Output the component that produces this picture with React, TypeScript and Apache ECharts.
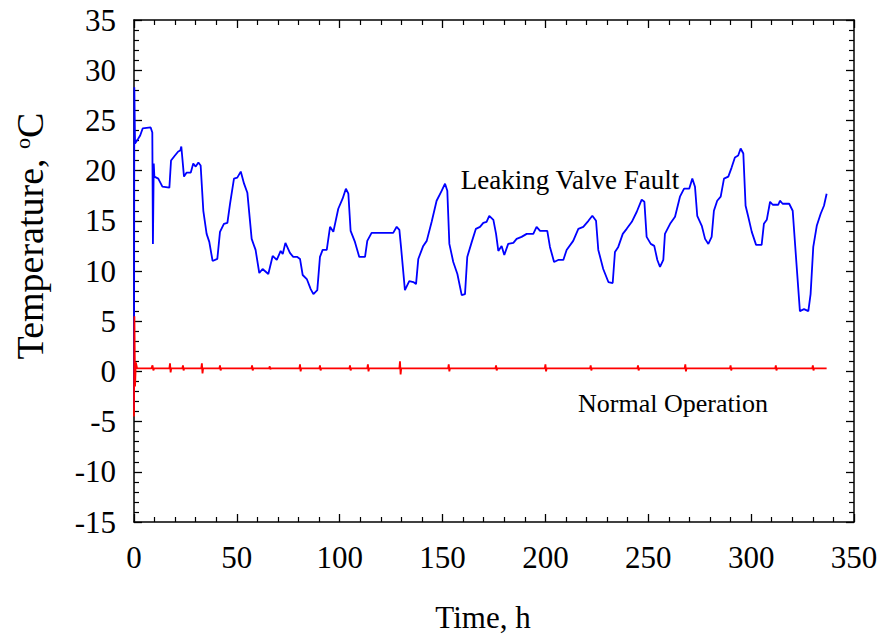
import React, { useEffect, useRef } from "react";
import * as echarts from "echarts";

const xTicks = [0, 50, 100, 150, 200, 250, 300, 350];
const yTicks = [-15, -10, -5, 0, 5, 10, 15, 20, 25, 30, 35];

// Leaking valve fault: [time h, temperature °C]
const leakingValve: [number, number][] = [
  [0, -3.7], [0.15, 28.3], [0.5, 22.7], [2.1, 23.2], [3, 23.5], [4.2, 24.2], [8.1, 24.3], [8.9, 23.8],
  [9.2, 12.7], [9.6, 20.7], [9.9, 19.4], [11.8, 19.2], [13.8, 18.4], [17.2, 18.3], [18, 21.0], [19.9, 21.5],
  [21.5, 21.9], [22.5, 22.0], [23, 22.4], [24.3, 19.4], [25.6, 19.8], [27.6, 19.8], [28.8, 20.7], [30, 20.4],
  [31.3, 20.8], [32.4, 20.5], [33.7, 16.0], [35.3, 13.7], [36.6, 12.9], [38.2, 11.0], [40.5, 11.2], [41.8, 13.9],
  [43.7, 14.7], [45.4, 14.8], [46.7, 16.7], [48.6, 19.2], [50.2, 19.3], [51.9, 19.9], [53.5, 18.7], [55.1, 17.8],
  [57.2, 13.2], [59.1, 12.1], [60.9, 9.8], [62.5, 10.2], [65.3, 9.7], [67.4, 11.5], [69.4, 11.1], [71.3, 12.0],
  [72.3, 11.7], [73.6, 12.8], [75.8, 11.8], [77.4, 11.4], [79.4, 11.4], [80.7, 11.2], [82, 9.6], [84, 9.2],
  [85.9, 8.2], [87.2, 7.7], [89.1, 8.1], [90.4, 11.4], [91.7, 12.1], [93.7, 12.1], [95.3, 14.4], [96.9, 13.9],
  [99.3, 16.2], [101.4, 17.2], [103, 18.2], [104.2, 17.7], [105.3, 14.0], [107.4, 12.9], [109.5, 11.4], [112.3, 11.4],
  [113.4, 13.0], [115.5, 13.8], [126, 13.8], [127.7, 14.4], [129, 14.1], [129.8, 12.4], [131.7, 8.1], [133.8, 9.0],
  [135.8, 8.9], [137.1, 8.7], [138.2, 11.2], [140.6, 12.5], [142.3, 13.0], [144.7, 14.9], [147.1, 17.0], [149.6, 18.0],
  [151.2, 18.7], [152.3, 18.0], [153.3, 12.7], [155.2, 10.9], [157.2, 9.7], [159.3, 7.6], [160.9, 7.7], [162, 11.4],
  [164.2, 12.9], [166.2, 14.2], [168.2, 14.4], [169.8, 14.8], [171.4, 14.9], [172.7, 15.5], [174.7, 15.1], [176, 13.7],
  [177.1, 12.0], [178.7, 12.5], [180, 11.6], [181.9, 12.7], [184.4, 12.8], [186, 13.2], [188.4, 13.4], [190.9, 13.7],
  [194.1, 13.7], [195.7, 14.4], [197.4, 14.0], [200.9, 14.0], [202.2, 12.4], [204.2, 10.9], [206.2, 11.1], [208.7, 11.1],
  [210.3, 12.1], [213.5, 13.0], [216, 14.2], [218.4, 14.4], [220.9, 15.0], [222.8, 15.5], [224.6, 15.0], [225.7, 12.1],
  [228.1, 10.2], [230.6, 8.9], [232.7, 8.8], [233.8, 11.9], [235.4, 12.4], [237.6, 13.7], [239.5, 14.2], [242, 14.9],
  [244.4, 15.9], [246.8, 17.1], [248.1, 16.9], [249.2, 13.4], [251.2, 12.7], [252.9, 12.5], [254.4, 11.1], [255.7, 10.4],
  [257.3, 11.1], [258.1, 13.7], [260.6, 14.7], [263, 15.4], [265.4, 17.4], [267.4, 18.2], [269.9, 18.2], [271.4, 19.2],
  [272.7, 18.4], [273.8, 15.5], [276, 14.5], [277.6, 13.2], [279.2, 12.7], [280.8, 13.4], [281.9, 16.0], [283.5, 17.0],
  [285.2, 17.4], [286.8, 19.2], [288.9, 19.4], [290.5, 20.3], [292.1, 21.3], [293.7, 21.5], [294.9, 22.2], [296.2, 21.7],
  [297.3, 16.5], [298.6, 15.4], [300.3, 13.9], [302.4, 12.6], [305.1, 12.6], [306.2, 14.7], [307.6, 15.1], [309.2, 16.9],
  [310.5, 16.6], [313.2, 16.6], [314, 17.0], [315.3, 16.7], [318.5, 16.7], [320.2, 16.0], [321.8, 11.4], [323.7, 6.0],
  [325.7, 6.2], [327.8, 6.0], [328.9, 7.7], [330.2, 12.4], [331.9, 14.5], [333.8, 15.7], [335.4, 16.5], [336.7, 17.7],
];

// Normal operation: [time h, temperature °C]
const normalOperation: [number, number][] = [
  [0, -4.5], [0.2, 5.5], [0.5, -1.5], [0.9, 0.9], [1.5, 0.3], [8.5, 0.3], [9, 0.6], [9.4, 0.1], [9.8, 0.3],
  [17.2, 0.3], [17.5, 0.8], [17.8, -0.1], [18.1, 0.3], [23.5, 0.3], [23.8, 0.6], [24.1, 0.1], [24.4, 0.3],
  [32.7, 0.3], [33, 0.8], [33.3, -0.2], [33.6, 0.3], [41.5, 0.3], [41.8, 0.6], [42.1, 0.1], [42.4, 0.3],
  [57.1, 0.3], [57.4, 0.6], [57.7, 0.1], [58, 0.3], [65.7, 0.3], [66, 0.5], [66.3, 0.2], [66.6, 0.3],
  [80.4, 0.3], [80.7, 0.7], [81, 0.0], [81.3, 0.3], [90.1, 0.3], [90.4, 0.6], [90.7, 0.1], [91, 0.3],
  [104.7, 0.3], [105, 0.6], [105.3, 0.1], [105.6, 0.3], [113.4, 0.3], [113.7, 0.7], [114, 0.0], [114.3, 0.3],
  [129, 0.3], [129.3, 1.0], [129.6, -0.3], [129.9, 0.3], [152.7, 0.3], [153, 0.7], [153.3, 0.0], [153.6, 0.3],
  [175.7, 0.3], [176, 0.6], [176.3, 0.1], [176.6, 0.3], [199.7, 0.3], [200, 0.7], [200.3, 0.0], [200.6, 0.3],
  [221.7, 0.3], [222, 0.6], [222.3, 0.1], [222.6, 0.3], [244.7, 0.3], [245, 0.6], [245.3, 0.1], [245.6, 0.3],
  [267.7, 0.3], [268, 0.7], [268.3, 0.0], [268.6, 0.3], [289.7, 0.3], [290, 0.6], [290.3, 0.1], [290.6, 0.3],
  [311.7, 0.3], [312, 0.6], [312.3, 0.1], [312.6, 0.3], [329.7, 0.3], [330, 0.6], [330.3, 0.1], [330.6, 0.3],
  [336.7, 0.3],
];

const SERIF = "'Liberation Serif', 'Times New Roman', serif";

export default function App() {
  const ref = useRef<HTMLDivElement>(null);
  useEffect(() => {
    document.body.style.margin = "0";
    if (!ref.current) return;
    const chart = echarts.init(ref.current, null, { renderer: "svg" });
    const axisCommon = {
      type: "value" as const,
      axisLine: { show: true, onZero: false, lineStyle: { color: "#000", width: 1.5 } },
      axisTick: { show: true, inside: true, length: 8, lineStyle: { color: "#000", width: 1.3 } },
      minorTick: { show: true, splitNumber: 5, length: 5, lineStyle: { color: "#000", width: 1.2 } },
      splitLine: { show: false },
    };
    chart.setOption({
      animation: false,
      backgroundColor: "#fff",
      grid: { left: 134, right: 27, top: 20, bottom: 112, containLabel: false },
      xAxis: [
        {
          ...axisCommon,
          position: "bottom",
          min: xTicks[0],
          max: xTicks[xTicks.length - 1],
          interval: 50,
          axisLabel: { margin: 20, fontSize: 31, fontFamily: SERIF, color: "#000" },
        },
        {
          ...axisCommon,
          position: "top",
          min: xTicks[0],
          max: xTicks[xTicks.length - 1],
          interval: 50,
          axisLabel: { show: false },
        },
      ],
      yAxis: [
        {
          ...axisCommon,
          position: "left",
          min: yTicks[0],
          max: yTicks[yTicks.length - 1],
          interval: 5,
          axisLabel: { margin: 18, fontSize: 31, fontFamily: SERIF, color: "#000" },
        },
        {
          ...axisCommon,
          position: "right",
          min: yTicks[0],
          max: yTicks[yTicks.length - 1],
          interval: 5,
          axisLabel: { show: false },
        },
      ],
      series: [
        {
          name: "Leaking Valve Fault",
          type: "line",
          xAxisIndex: 0,
          yAxisIndex: 0,
          data: leakingValve,
          showSymbol: false,
          symbol: "none",
          lineStyle: { color: "#0000ff", width: 1.8 },
          z: 2,
        },
        {
          name: "Normal Operation",
          type: "line",
          xAxisIndex: 0,
          yAxisIndex: 0,
          data: normalOperation,
          showSymbol: false,
          symbol: "none",
          lineStyle: { color: "#ff0000", width: 1.8 },
          z: 3,
        },
      ],
      graphic: [
        {
          type: "text",
          x: 483,
          y: 617,
          style: {
            text: "Time, h",
            fontSize: 31,
            fontFamily: SERIF,
            fill: "#000",
            align: "center",
            verticalAlign: "middle",
          },
        },
        {
          type: "text",
          x: 30,
          y: 236,
          rotation: Math.PI / 2,
          style: {
            text: "Temperature, {sup|o}C",
            fontSize: 38,
            fontFamily: SERIF,
            fill: "#000",
            align: "center",
            verticalAlign: "middle",
            rich: {
              sup: { fontSize: 22, fontFamily: SERIF, fill: "#000", verticalAlign: "top", lineHeight: 38 },
            },
          },
        },
        {
          type: "text",
          x: 570,
          y: 180,
          style: {
            text: "Leaking Valve Fault",
            fontSize: 27,
            fontFamily: SERIF,
            fill: "#000",
            align: "center",
            verticalAlign: "middle",
          },
        },
        {
          type: "text",
          x: 673,
          y: 403,
          style: {
            text: "Normal Operation",
            fontSize: 26,
            fontFamily: SERIF,
            fill: "#000",
            align: "center",
            verticalAlign: "middle",
          },
        },
      ],
    });
    return () => chart.dispose();
  }, []);
  return <div ref={ref} style={{ width: 881, height: 634 }} />;
}
